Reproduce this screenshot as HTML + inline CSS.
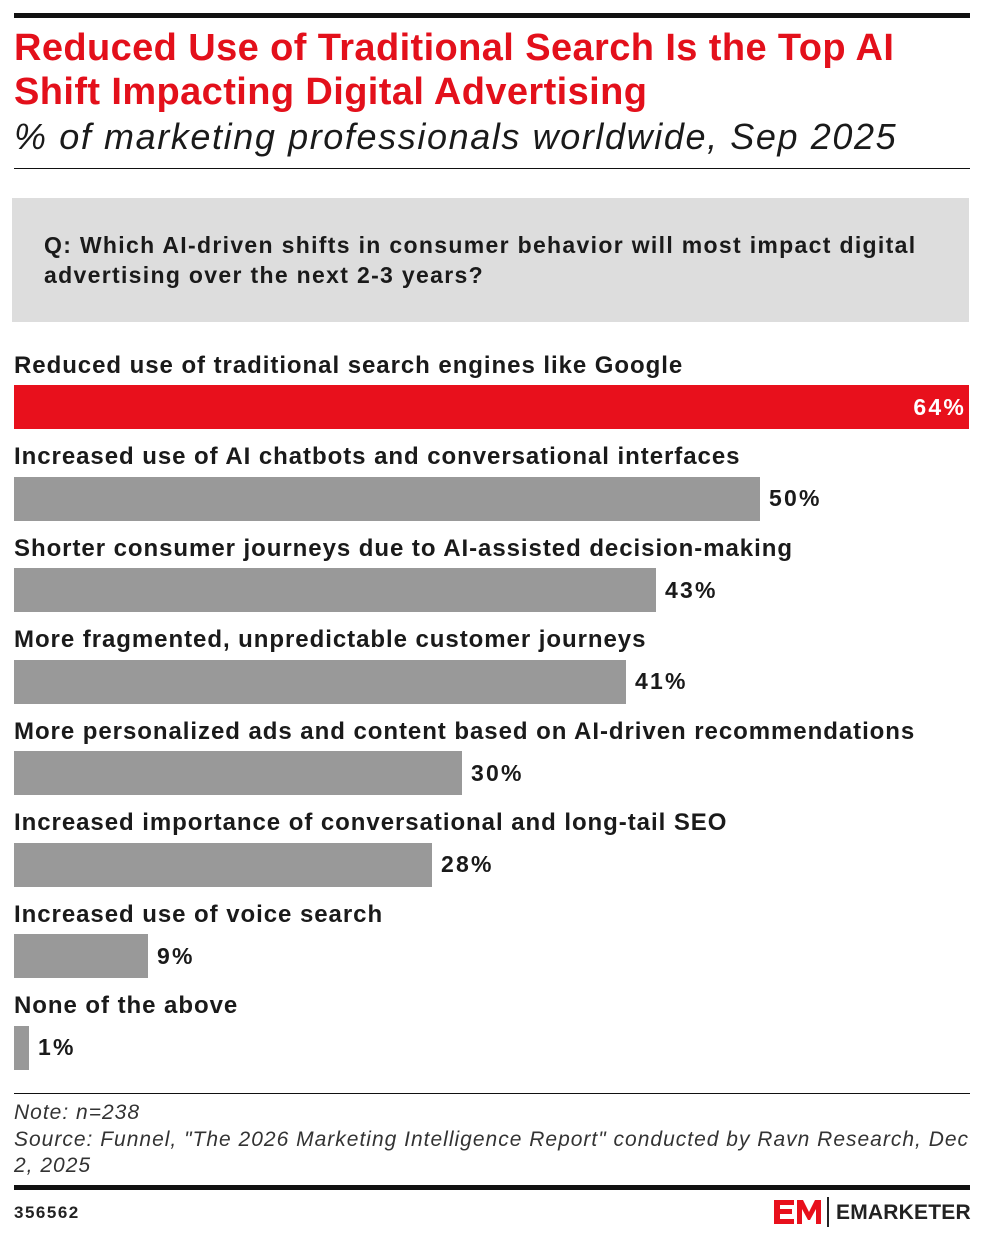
<!DOCTYPE html>
<html><head><style>
body{margin:0;width:982px;height:1239px;background:#fff;font-family:"Liberation Sans",sans-serif;position:relative;overflow:hidden}
.a{position:absolute;white-space:nowrap}
.lbl{font-size:24px;font-weight:bold;color:#1a1a1a;letter-spacing:0.95px}
.bar{position:absolute;left:14px;height:44px;background:#999}
.val{font-size:23px;font-weight:bold;color:#1a1a1a;letter-spacing:2.2px}
</style></head><body>
<div class="a" style="left:14px;top:13px;width:956px;height:5px;background:#111"></div>
<div class="a" style="left:14px;top:26px;font-size:38px;font-weight:bold;color:#e3101b;line-height:44px;letter-spacing:0.4px">Reduced Use of Traditional Search Is the Top AI<br>Shift Impacting Digital Advertising</div>
<div class="a" style="left:14px;top:116px;font-size:36px;font-style:italic;color:#1a1a1a;letter-spacing:1.6px">% of marketing professionals worldwide, Sep 2025</div>
<div class="a" style="left:14px;top:168px;width:956px;height:1px;background:#111"></div>
<div class="a" style="left:12px;top:198px;width:957px;height:124px;background:#ddd"></div>
<div class="a" style="left:44px;top:230px;font-size:23px;font-weight:bold;color:#1a1a1a;line-height:30px;letter-spacing:1.32px">Q: Which AI-driven shifts in consumer behavior will most impact digital<br>advertising over the next 2-3 years?</div>

<div class="a lbl" style="left:14px;top:352px">Reduced use of traditional search engines like Google</div>
<div class="bar" style="top:385px;width:955px;background:#e8101c"></div>
<div class="a val" style="right:16px;top:394px;color:#fff">64%</div>

<div class="a lbl" style="left:14px;top:443px">Increased use of AI chatbots and conversational interfaces</div>
<div class="bar" style="top:477px;width:746px"></div>
<div class="a val" style="left:769px;top:485px">50%</div>

<div class="a lbl" style="left:14px;top:535px">Shorter consumer journeys due to AI-assisted decision-making</div>
<div class="bar" style="top:568px;width:642px"></div>
<div class="a val" style="left:665px;top:577px">43%</div>

<div class="a lbl" style="left:14px;top:626px">More fragmented, unpredictable customer journeys</div>
<div class="bar" style="top:660px;width:612px"></div>
<div class="a val" style="left:635px;top:668px">41%</div>

<div class="a lbl" style="left:14px;top:718px">More personalized ads and content based on AI-driven recommendations</div>
<div class="bar" style="top:751px;width:448px"></div>
<div class="a val" style="left:471px;top:760px">30%</div>

<div class="a lbl" style="left:14px;top:809px">Increased importance of conversational and long-tail SEO</div>
<div class="bar" style="top:843px;width:418px"></div>
<div class="a val" style="left:441px;top:851px">28%</div>

<div class="a lbl" style="left:14px;top:901px">Increased use of voice search</div>
<div class="bar" style="top:934px;width:134px"></div>
<div class="a val" style="left:157px;top:943px">9%</div>

<div class="a lbl" style="left:14px;top:992px">None of the above</div>
<div class="bar" style="top:1026px;width:15px"></div>
<div class="a val" style="left:38px;top:1034px">1%</div>

<div class="a" style="left:14px;top:1093px;width:956px;height:1px;background:#111"></div>
<div class="a" style="left:14px;top:1100px;font-size:21px;font-style:italic;color:#333;line-height:26.5px;letter-spacing:1.0px">Note: n=238<br>Source: Funnel, "The 2026 Marketing Intelligence Report" conducted by Ravn Research, Dec<br>2, 2025</div>
<div class="a" style="left:14px;top:1185px;width:956px;height:5px;background:#111"></div>
<div class="a" style="left:14px;top:1203px;font-size:17px;font-weight:bold;color:#222;letter-spacing:1.5px">356562</div>
<div class="a" style="left:774px;top:1198px;width:50px;height:28px">
<svg width="50" height="28" viewBox="0 0 50 28"><path d="M0 2h20v5H6v4h12v5H6v5h14v5H0z M23 26V2h6l6 12 6-12h6v24h-5V11l-6 11h-2l-6-11v15z" fill="#e8101c"/></svg></div>
<div class="a" style="left:827px;top:1197px;width:2px;height:30px;background:#222"></div>
<div class="a" style="left:836px;top:1201px;font-size:21px;font-weight:bold;color:#222;letter-spacing:0.2px">EMARKETER</div>
</body></html>
